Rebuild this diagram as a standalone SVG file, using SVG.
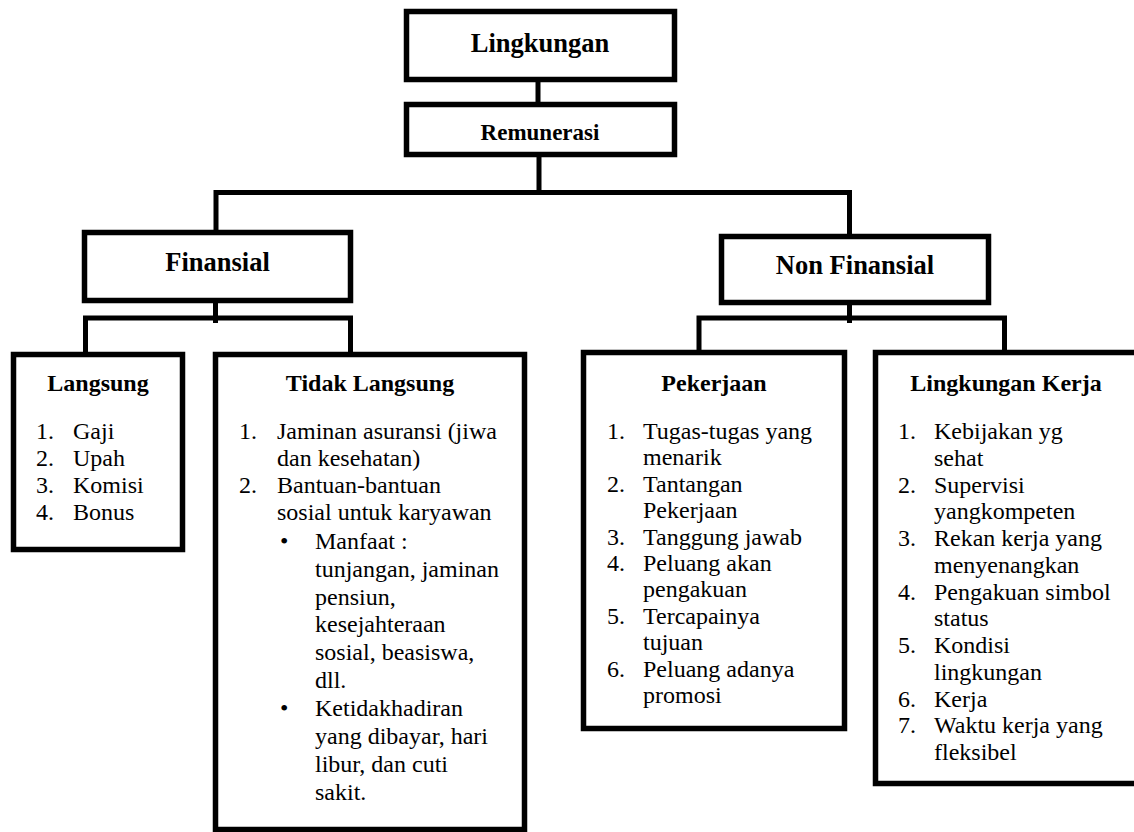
<svg xmlns="http://www.w3.org/2000/svg" width="1134" height="832" viewBox="0 0 1134 832">
<style>
.box{fill:#fff;stroke:#000;stroke-width:5.5}
.con{fill:none;stroke:#000;stroke-width:5}
text{font-family:"Liberation Serif","Times New Roman",serif;fill:#000}
.t1{font-weight:bold;font-size:26.5px;text-anchor:middle}
.t2{font-weight:bold;font-size:24px;text-anchor:middle}
.t3{font-weight:bold;font-size:23px;text-anchor:middle}
.b{font-size:24px}
</style>
<rect width="1134" height="832" fill="#fff"/>
<g id="connectors">
<path class="con" d="M538,82 V104"/>
<path class="con" d="M539,157 V192.5"/>
<path class="con" d="M216,232 V192.5 H849.5 V236"/>
<path class="con" d="M215.5,303 V323"/>
<path class="con" d="M85.5,354 V318 H350.5 V354"/>
<path class="con" d="M849.5,305 V323"/>
<path class="con" d="M699,352 V318 H1004.5 V352"/>
</g>
<g id="lingkungan">
<rect class="box" x="406.5" y="11.5" width="268" height="68"/>
<text class="t1" x="540" y="52">Lingkungan</text>
</g>
<g id="remunerasi">
<rect class="box" x="406.5" y="104.5" width="268" height="50"/>
<text class="t3" x="540" y="140">Remunerasi</text>
</g>
<g id="finansial">
<rect class="box" x="84.5" y="232.5" width="266" height="68"/>
<text class="t1" x="217.5" y="271">Finansial</text>
</g>
<g id="non-finansial">
<rect class="box" x="721.5" y="236.5" width="267" height="66"/>
<text class="t1" x="855" y="274">Non Finansial</text>
</g>
<g id="langsung">
<rect class="box" x="13.5" y="354.5" width="169" height="195"/>
<text class="t2" x="98" y="391">Langsung</text>
<text class="b" x="36" y="439">1.</text><text class="b" x="73" y="439">Gaji</text>
<text class="b" x="36" y="466">2.</text><text class="b" x="73" y="466">Upah</text>
<text class="b" x="36" y="493">3.</text><text class="b" x="73" y="493">Komisi</text>
<text class="b" x="36" y="520">4.</text><text class="b" x="73" y="520">Bonus</text>
</g>
<g id="tidak-langsung">
<rect class="box" x="215.5" y="354.5" width="309" height="475"/>
<text class="t2" x="370" y="391">Tidak Langsung</text>
<text class="b" x="239" y="439">1.</text><text class="b" x="277" y="439">Jaminan asuransi (jiwa</text>
<text class="b" x="277" y="466">dan kesehatan)</text>
<text class="b" x="239" y="493">2.</text><text class="b" x="277" y="493">Bantuan-bantuan</text>
<text class="b" x="277" y="520">sosial untuk karyawan</text>
<text class="b" x="280" y="549">•</text><text class="b" x="315" y="549">Manfaat :</text>
<text class="b" x="315" y="577">tunjangan, jaminan</text>
<text class="b" x="315" y="605">pensiun,</text>
<text class="b" x="315" y="632">kesejahteraan</text>
<text class="b" x="315" y="660">sosial, beasiswa,</text>
<text class="b" x="315" y="688">dll.</text>
<text class="b" x="280" y="716">•</text><text class="b" x="315" y="716">Ketidakhadiran</text>
<text class="b" x="315" y="744">yang dibayar, hari</text>
<text class="b" x="315" y="772">libur, dan cuti</text>
<text class="b" x="315" y="800">sakit.</text>
</g>
<g id="pekerjaan">
<rect class="box" x="583.5" y="352.5" width="261" height="376"/>
<text class="t2" x="714" y="391">Pekerjaan</text>
<text class="b" x="607" y="439">1.</text><text class="b" x="643" y="439">Tugas-tugas yang</text>
<text class="b" x="643" y="465.4">menarik</text>
<text class="b" x="607" y="491.8">2.</text><text class="b" x="643" y="491.8">Tantangan</text>
<text class="b" x="643" y="518.2">Pekerjaan</text>
<text class="b" x="607" y="544.6">3.</text><text class="b" x="643" y="544.6">Tanggung jawab</text>
<text class="b" x="607" y="571">4.</text><text class="b" x="643" y="571">Peluang akan</text>
<text class="b" x="643" y="597.4">pengakuan</text>
<text class="b" x="607" y="623.8">5.</text><text class="b" x="643" y="623.8">Tercapainya</text>
<text class="b" x="643" y="650.2">tujuan</text>
<text class="b" x="607" y="676.6">6.</text><text class="b" x="643" y="676.6">Peluang adanya</text>
<text class="b" x="643" y="703">promosi</text>
</g>
<g id="lingkungan-kerja">
<rect class="box" x="875.5" y="352.5" width="270" height="431"/>
<text class="t2" x="1006" y="391">Lingkungan Kerja</text>
<text class="b" x="898" y="439">1.</text><text class="b" x="934" y="439">Kebijakan yg</text>
<text class="b" x="934" y="465.75">sehat</text>
<text class="b" x="898" y="492.5">2.</text><text class="b" x="934" y="492.5">Supervisi</text>
<text class="b" x="934" y="519.25">yangkompeten</text>
<text class="b" x="898" y="546">3.</text><text class="b" x="934" y="546">Rekan kerja yang</text>
<text class="b" x="934" y="572.75">menyenangkan</text>
<text class="b" x="898" y="599.5">4.</text><text class="b" x="934" y="599.5">Pengakuan simbol</text>
<text class="b" x="934" y="626.25">status</text>
<text class="b" x="898" y="653">5.</text><text class="b" x="934" y="653">Kondisi</text>
<text class="b" x="934" y="679.75">lingkungan</text>
<text class="b" x="898" y="706.5">6.</text><text class="b" x="934" y="706.5">Kerja</text>
<text class="b" x="898" y="733.25">7.</text><text class="b" x="934" y="733.25">Waktu kerja yang</text>
<text class="b" x="934" y="760">fleksibel</text>
</g>
</svg>
